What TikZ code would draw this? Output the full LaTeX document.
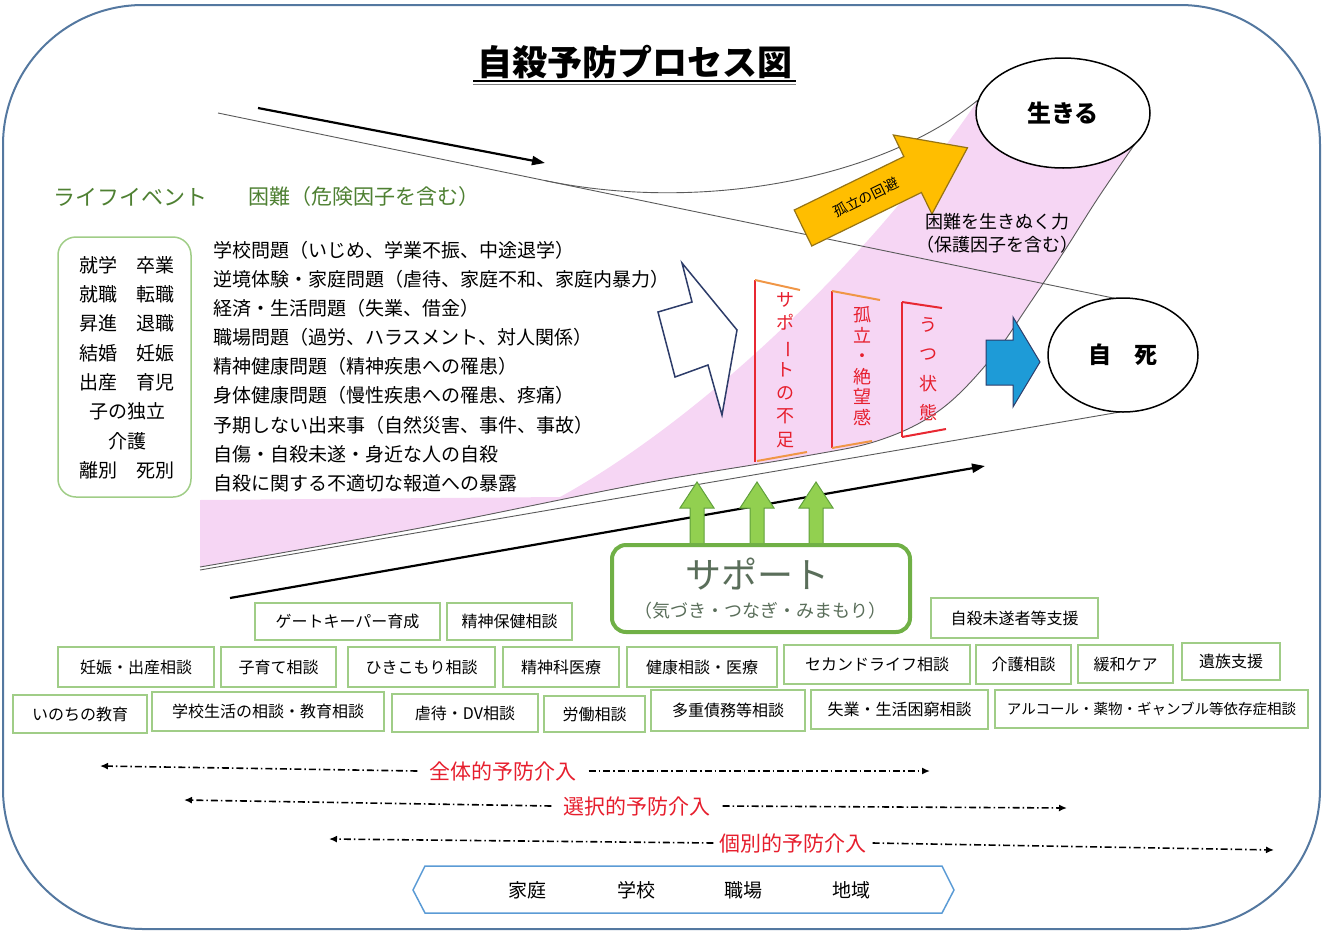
\documentclass[tikz,border=0pt]{standalone}
\usepackage{fontspec}
\setmainfont{Noto Sans CJK JP}
\usepackage{graphicx}
\usetikzlibrary{arrows.meta,shapes.geometric}
\newcommand{\fsz}[1]{\fontsize{#1}{#1}\selectfont}
\newcommand{\fszb}[2]{\fontsize{#1}{#2}\selectfont}
\newcommand{\vbar}{\rotatebox[origin=c]{-90}{ー}}
\definecolor{bordblue}{RGB}{84,120,160}
\definecolor{lightgreen}{RGB}{160,205,135}
\definecolor{labgreen}{RGB}{78,128,50}
\definecolor{supgreen}{RGB}{112,176,70}
\definecolor{suptext}{RGB}{90,110,90}
\definecolor{pinkband}{RGB}{246,214,244}
\definecolor{redline}{RGB}{232,40,50}
\definecolor{orangeline}{RGB}{240,150,70}
\definecolor{redtext}{RGB}{230,30,45}
\definecolor{arrowgreen}{RGB}{146,208,80}
\definecolor{arrowgreenD}{RGB}{96,160,60}
\definecolor{goldfill}{RGB}{255,190,0}
\definecolor{goldline}{RGB}{150,115,20}
\definecolor{bluefill}{RGB}{30,155,215}
\definecolor{navyline}{RGB}{45,60,105}
\definecolor{hexblue}{RGB}{91,155,213}
\definecolor{conegray}{RGB}{90,90,90}
\newcommand{\sbx}[6]{\node[sbox,minimum width=#4,minimum height=#5] (#1) at (#2,#3) {#6};}
\begin{document}
\begin{tikzpicture}[x=1pt,y=-1pt,
  cone/.style={draw=conegray,line width=0.9},
  sbox/.style={draw=lightgreen,line width=1.5,fill=white,inner sep=0pt,font=\fsz{16}},
  bigarrow/.style={line width=2.2,-{Triangle[length=13pt,width=9pt]}},
  dd/.style={line width=1.6,dash pattern=on 7pt off 3pt on 1.5pt off 3pt,-{Latex[length=8pt,width=7pt]}},
  redlab/.style={text=redtext,font=\fsz{21},inner xsep=12pt,inner ysep=0pt},
  vtxt/.style={text=redtext,align=center,inner sep=0pt},
  redbar/.style={draw=redline,line width=2},
  orbar/.style={draw=orangeline,line width=2},
  upgreen/.style={fill=arrowgreen,draw=arrowgreenD,line width=1},
]
\useasboundingbox (0,0) rectangle (1323,932);
% outer frame
\draw[draw=bordblue,line width=2,rounded corners=140] (3,5) rectangle (1320,929);

% title
\node[font=\bfseries\fsz{35},inner sep=0pt] (title) at (635,62.5) {自殺予防プロセス図};
\draw[line width=2] (473,80.5) -- (796,80.5);
\draw[line width=1.5,gray] (473,84.5) -- (796,84.5);

% pink band
\fill[pinkband] plot[smooth,tension=0.6] coordinates {(200,567) (420,528) (640,484) (800,457) (880,440) (940,410) (990,360) (1030,303) (1065,250) (1100,195) (1148,125)} -- (978,100) .. controls (870,260) and (700,420) .. (560,497) -- (200,500) -- cycle;
\draw[cone] plot[smooth,tension=0.6] coordinates {(200,567) (420,528) (640,484) (800,457) (880,440) (940,410) (990,360) (1030,303) (1065,250) (1100,195) (1148,125)};

% cone lines
\draw[cone] (218,113) -- (1118,299);
\draw[cone] (545,180.6) .. controls (700,212.6) and (880,180) .. (978,100);
\draw[cone] (200,570) -- (1120,412);

% thick arrows
\coordinate (ta1) at (258,108);
\coordinate (ta2) at (545,163);
\coordinate (ba1) at (230,598);
\coordinate (ba2) at (985,466);
\draw[bigarrow] (ta1) -- (ta2);
\draw[bigarrow] (ba1) -- (ba2);

% end ellipses
\node[ellipse,draw,line width=1.5,fill=white,minimum width=174,minimum height=110,inner sep=0pt,font=\bfseries\fsz{24}] (live) at (1063,113) {生きる};
\node[ellipse,draw,line width=1.5,fill=white,minimum width=150,minimum height=114,inner sep=0pt,font=\bfseries\fsz{23}] (death) at (1123,355) {自　死};

% orange arrow
\begin{scope}[shift={(803,228)},rotate=26]
\draw[fill=goldfill,draw=goldline,line width=1.2] (0,-20) -- (122,-20) -- (122,-44) -- (183,0) -- (122,44) -- (122,20) -- (0,20) -- cycle;
\node[rotate=26,font=\fsz{14},inner sep=0pt] (avoid) at (70,0) {孤立の回避};
\end{scope}

% white arrow
\draw[fill=white,draw=navyline,line width=1.5,line join=miter] (658,312) -- (692,302) -- (682,263) -- (737,330) -- (722,415) -- (708,365) -- (675,377) -- cycle;

% blue arrow
\draw[fill=bluefill,draw=navyline,line width=1] (986,340) -- (1013,340) -- (1013,317) -- (1040,362) -- (1013,407) -- (1013,385) -- (986,385) -- cycle;

% protective text
\node[align=center,font=\fszb{18}{23},inner sep=0pt] (power) at (997,233) {困難を生きぬく力\\（保護因子を含む）};

% brackets
\draw[redbar] (755,280) -- (755,462);
\draw[orbar] (755,280) -- (800,290);
\draw[orbar] (757,461) -- (807,452);
\node[vtxt,font=\fszb{18}{23.3}] (lack) at (785,370) {サ\\ポ\\\vbar\\ト\\の\\不\\足};
\draw[redbar] (832,291) -- (832,448);
\draw[orbar] (832,291) -- (880,300);
\draw[orbar] (832,448) -- (872,441);
\node[vtxt,font=\fszb{18}{20.5}] (isol) at (862,366) {孤\\立\\・\\絶\\望\\感};
\draw[redbar] (902,302) -- (902,437);
\draw[redbar] (902,302) -- (942,308);
\draw[redbar] (902,437) -- (946,429);
\node[vtxt,font=\fszb{18}{29.5}] (depr) at (928,369) {う\\つ\\状\\態};

% left titles
\node[text=labgreen,font=\fsz{22},inner sep=0pt] (lifeev) at (130,197) {ライフイベント};
\node[text=labgreen,font=\fsz{21},anchor=west,inner sep=0pt] (diff) at (248,197) {困難（危険因子を含む）};

% life event box
\node[draw=lightgreen,line width=1.5,rounded corners=18,minimum width=133,minimum height=260] (lebox) at (124.5,367) {};
\node[align=center,font=\fszb{19}{29.3},inner sep=0pt] (le) at (127,367.5) {就学　卒業\\就職　転職\\昇進　退職\\結婚　妊娠\\出産　育児\\子の独立\\介護\\離別　死別};

% difficulties list
\node[align=left,anchor=west,font=\fszb{19}{29.1},inner sep=0pt] (dlist) at (213,366.5) {学校問題（いじめ、学業不振、中途退学）\\逆境体験・家庭問題（虐待、家庭不和、家庭内暴力）\\経済・生活問題（失業、借金）\\職場問題（過労、ハラスメント、対人関係）\\精神健康問題（精神疾患への罹患）\\身体健康問題（慢性疾患への罹患、疼痛）\\予期しない出来事（自然災害、事件、事故）\\自傷・自殺未遂・身近な人の自殺\\自殺に関する不適切な報道への暴露};

% green up arrows
\foreach \c in {697,757,816} {
  \draw[upgreen] (\c-7,547) -- (\c-7,508) -- (\c-17,508) -- (\c,482) -- (\c+17,508) -- (\c+7,508) -- (\c+7,547) -- cycle;
}

% support box
\node[draw=supgreen,line width=4,fill=white,rounded corners=14,minimum width=298,minimum height=87] (support) at (761,588.5) {};
\node[text=suptext,font=\fsz{36},inner sep=0pt] (suptitle) at (757,574) {サポート};
\node[text=suptext,font=\fsz{18},inner sep=0pt] (supsub) at (760,611) {（気づき・つなぎ・みまもり）};

% service boxes
\sbx{gk}{347.5}{621.5}{185}{37}{ゲートキーパー育成}
\sbx{mh}{509.5}{621.5}{125}{37}{精神保健相談}
\sbx{att}{1014.5}{618}{167}{40}{自殺未遂者等支援}
\sbx{preg}{136}{667}{156}{40}{妊娠・出産相談}
\sbx{child}{278.5}{667}{115}{40}{子育て相談}
\sbx{hiki}{421.5}{667}{147}{40}{ひきこもり相談}
\sbx{psy}{561}{667}{116}{40}{精神科医療}
\sbx{health}{702}{667}{150}{40}{健康相談・医療}
\sbx{second}{877}{664.5}{186}{39}{セカンドライフ相談}
\sbx{care}{1023.5}{664.5}{95}{39}{介護相談}
\sbx{pall}{1125.5}{664}{95}{38}{緩和ケア}
\sbx{bere}{1231}{661.5}{98}{37}{遺族支援}
\sbx{life}{80}{714}{134}{38}{いのちの教育}
\sbx{school}{268}{711.5}{232}{39}{学校生活の相談・教育相談}
\sbx{abuse}{465}{713}{146}{38}{虐待・DV相談}
\sbx{labor}{594.5}{714}{101}{36}{労働相談}
\sbx{debt}{728}{710.5}{154}{41}{多重債務等相談}
\sbx{unemp}{899.5}{709.5}{177}{39}{失業・生活困窮相談}
\node[sbox,minimum width=313,minimum height=38,font=\fsz{14.5}] (addict) at (1151.5,709) {アルコール・薬物・ギャンブル等依存症相談};

% prevention levels
\coordinate (l1) at (100,766);
\coordinate (r1) at (930,771);
\node[redlab] (t1) at (503,771) {全体的予防介入};
\draw[dd] (t1.west) -- (l1);
\draw[dd] (t1.east) -- (r1);
\coordinate (l2) at (184,800);
\coordinate (r2) at (1067,808);
\node[redlab] (t2) at (637,806) {選択的予防介入};
\draw[dd] (t2.west) -- (l2);
\draw[dd] (t2.east) -- (r2);
\coordinate (l3) at (329,839);
\coordinate (r3) at (1274,850);
\node[redlab,inner xsep=6pt] (t3) at (793,843) {個別的予防介入};
\draw[dd] (t3.west) -- (l3);
\draw[dd] (t3.east) -- (r3);

% settings box
\draw[draw=hexblue,line width=1.5] (413,890) -- (425,866) -- (942,866) -- (954,890) -- (942,913) -- (425,913) -- cycle;
\node[font=\fsz{19}] (home) at (527,890) {家庭};
\node[font=\fsz{19}] (sch) at (636,890) {学校};
\node[font=\fsz{19}] (work) at (743,890) {職場};
\node[font=\fsz{19}] (area) at (851,890) {地域};
\end{tikzpicture}
\end{document}
